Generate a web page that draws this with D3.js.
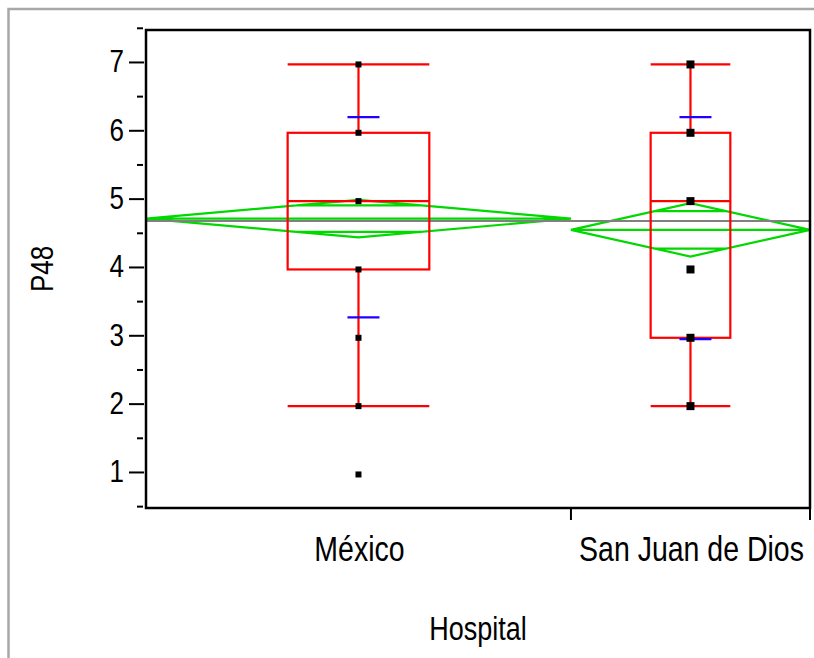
<!DOCTYPE html>
<html>
<head>
<meta charset="utf-8">
<script src="https://cdn.jsdelivr.net/npm/d3@7"></script>
<style>
  body { margin: 0; background: #fff; }
  text { font-family: "Liberation Sans", Arial, sans-serif; fill: #000; }
</style>
</head>
<body>
<svg width="814" height="658"></svg>
<script>
// hospital groups, width of each band follows the group size
var categories = ['México', 'San Juan de Dios'];
var counts = [112, 63];

// observed values (distinct levels plotted per group)
var points = [[7, 6, 5, 4, 3, 2, 1], [7, 6, 5, 4, 3, 2]];

// box plot summary
var whiskerLow = [2, 2];
var q1 = [4, 3];
var medians = [5, 5];
var q3 = [6, 6];
var whiskerHigh = [7, 7];

// means diamonds (mean, 95% CI half width) and std dev lines
var means = [4.715, 4.55];
var ciHalf = [0.275, 0.39];
var sdUpper = [6.2, 6.2];
var sdLower = [3.27, 2.95];
var grandMean = 4.68;

var yTicks = [1, 2, 3, 4, 5, 6, 7];
var yMinor = [0.5, 1.5, 2.5, 3.5, 4.5, 5.5, 6.5, 7.5];

var svg = d3.select('svg');
var pLeft = 146, pRight = 810, pTop = 30, pBottom = 508;

var total = d3.sum(counts);
var x = d3.scaleLinear().domain([0, total]).range([pLeft, pRight]);
var y = d3.scaleLinear().domain([0.48, 7.475]).range([pBottom, pTop]);

var groups = categories.map(function(c, i) {
  var start = d3.sum(counts.slice(0, i));
  return {
    name: c, i: i,
    x0: x(start), x1: x(start + counts[i]),
    cx: x(start + counts[i] / 2)
  };
});

// text slightly stretched vertically like the original
var stretched = function(sel, tx, ty, size, extra) {
  return sel.append('text')
    .attr('transform', 'translate(' + tx + ',' + ty + ')' + (extra || '') + ' scale(1,1.2)')
    .attr('font-size', size);
};

// outer gray frame
svg.append('path')
  .attr('d', 'M8.5,658 V9 H814')
  .attr('fill', 'none')
  .attr('stroke', '#a8a8a8')
  .attr('stroke-width', 2.5);

// y axis ticks
svg.selectAll('.major').data(yTicks).enter().append('line')
  .attr('x1', pLeft - 17).attr('x2', pLeft - 2)
  .attr('y1', function(d) { return y(d); }).attr('y2', function(d) { return y(d); })
  .attr('stroke', '#000').attr('stroke-width', 2);
svg.selectAll('.minor').data(yMinor).enter().append('line')
  .attr('x1', pLeft - 9).attr('x2', pLeft - 3)
  .attr('y1', function(d) { return y(d); }).attr('y2', function(d) { return y(d); })
  .attr('stroke', '#000').attr('stroke-width', 2);
yTicks.forEach(function(d) {
  stretched(svg, 124, y(d) + 10, 26)
    .attr('text-anchor', 'end')
    .text(d);
});

// x axis ticks at band edges
svg.selectAll('.xtick').data(groups.slice(1).map(function(g) { return g.x0; }).concat([pRight]))
  .enter().append('line')
  .attr('x1', function(d) { return d; }).attr('x2', function(d) { return d; })
  .attr('y1', pBottom).attr('y2', pBottom + 12)
  .attr('stroke', '#000').attr('stroke-width', 2);
groups.forEach(function(g) {
  stretched(svg, g.cx + 1, 561, 28.5)
    .attr('text-anchor', 'middle')
    .text(g.name);
});

stretched(svg, (pLeft + pRight) / 2, 640, 27)
  .attr('text-anchor', 'middle')
  .text('Hospital');
stretched(svg, 53, (pTop + pBottom) / 2, 26, ' rotate(-90)')
  .attr('text-anchor', 'middle')
  .text('P48');

var plot = svg.append('g');

// means diamonds
groups.forEach(function(g) {
  var m = means[g.i], h = ciHalf[g.i];
  var ov = h * Math.SQRT1_2;
  var hw = (g.x1 - g.x0) / 2 * (1 - ov / h);
  plot.append('path')
    .attr('d', 'M' + g.x0 + ',' + y(m) + 'L' + g.cx + ',' + y(m + h) + 'L' + g.x1 + ',' + y(m) +
      'L' + g.cx + ',' + y(m - h) + 'Z' +
      'M' + g.x0 + ',' + y(m) + 'H' + g.x1 +
      'M' + (g.cx - hw) + ',' + y(m + ov) + 'H' + (g.cx + hw) +
      'M' + (g.cx - hw) + ',' + y(m - ov) + 'H' + (g.cx + hw))
    .attr('fill', 'none').attr('stroke', '#00d800').attr('stroke-width', 2.2);
});

// grand mean
plot.append('line')
  .attr('x1', pLeft).attr('x2', pRight)
  .attr('y1', y(grandMean)).attr('y2', y(grandMean))
  .attr('stroke', '#808080').attr('stroke-width', 2.2);

// box plots and points sit a couple of pixels lower than the ticks in the original
var boxes = svg.append('g').attr('transform', 'translate(0,2)');
groups.forEach(function(g) {
  var w = (g.x1 - g.x0) / 3;
  var b0 = g.cx - w / 2, b1 = g.cx + w / 2;
  var i = g.i;
  boxes.append('rect')
    .attr('x', b0).attr('y', y(q3[i]))
    .attr('width', w).attr('height', y(q1[i]) - y(q3[i]))
    .attr('fill', 'none').attr('stroke', '#ff0000').attr('stroke-width', 2.2);
  boxes.append('path')
    .attr('d', 'M' + b0 + ',' + y(medians[i]) + 'H' + b1 +
      'M' + g.cx + ',' + y(q3[i]) + 'V' + y(whiskerHigh[i]) +
      'M' + g.cx + ',' + y(q1[i]) + 'V' + y(whiskerLow[i]) +
      'M' + b0 + ',' + y(whiskerHigh[i]) + 'H' + b1 +
      'M' + b0 + ',' + y(whiskerLow[i]) + 'H' + b1)
    .attr('fill', 'none').attr('stroke', '#ff0000').attr('stroke-width', 2.2);
  // std dev lines
  [sdUpper[i], sdLower[i]].forEach(function(v) {
    boxes.append('line')
      .attr('x1', g.cx - 11).attr('x2', g.cx + 21)
      .attr('y1', y(v) - 2).attr('y2', y(v) - 2)
      .attr('stroke', '#2200ff').attr('stroke-width', 2.2);
  });
  // points
  var s = g.i === 0 ? 6 : 8;
  boxes.selectAll('.pt' + i).data(points[i]).enter().append('rect')
    .attr('x', g.cx - s / 2).attr('y', function(d) { return y(d) - s / 2; })
    .attr('width', s).attr('height', s)
    .attr('fill', '#000');
});

// plot frame
svg.append('rect')
  .attr('x', pLeft).attr('y', pTop)
  .attr('width', pRight - pLeft).attr('height', pBottom - pTop)
  .attr('fill', 'none').attr('stroke', '#000').attr('stroke-width', 2.5);
</script>
</body>
</html>
